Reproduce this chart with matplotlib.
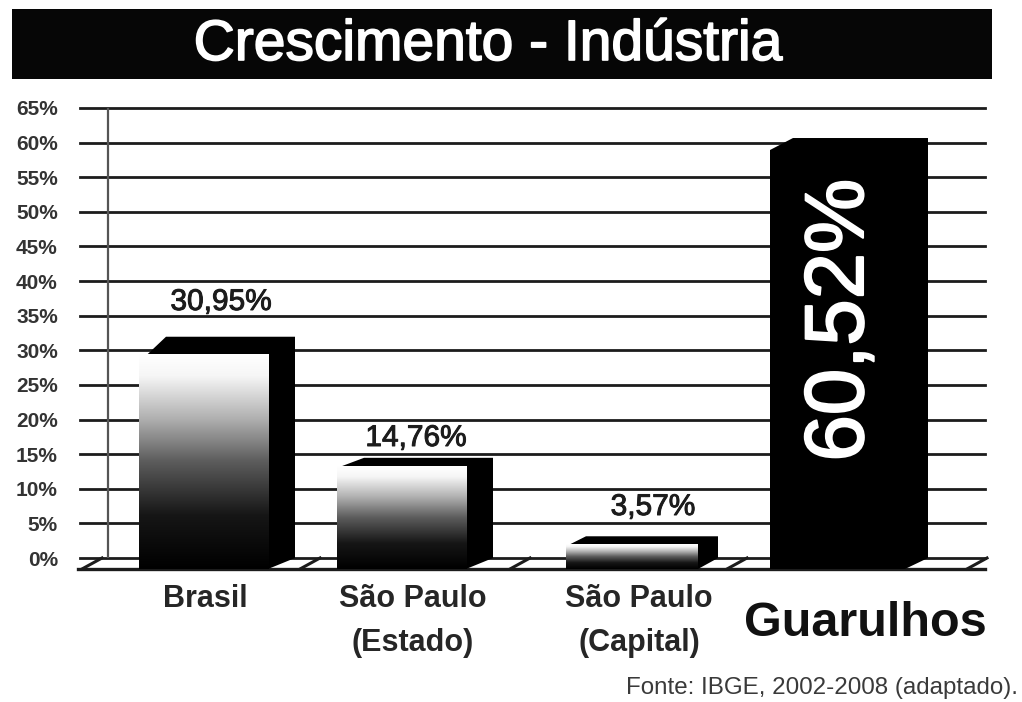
#!/usr/bin/env python3
"""Crescimento - Industria: pseudo-3D bar chart."""

import matplotlib
matplotlib.use("Agg")
import matplotlib.pyplot as plt
import matplotlib.patheffects as pe
from matplotlib.colors import LinearSegmentedColormap
from matplotlib.patches import Polygon, Rectangle
import numpy as np

W, H = 1022, 702

TITLE = "Crescimento - Indústria"
SOURCE = "Fonte: IBGE, 2002-2008 (adaptado)."
CATEGORIES = ["Brasil", "São Paulo\n(Estado)", "São Paulo\n(Capital)", "Guarulhos"]
VALUES = [30.95, 14.76, 3.57, 60.52]
VALUE_LABELS = ["30,95%", "14,76%", "3,57%", "60,52%"]
Y_TICKS = list(range(0, 70, 5))
Y_TICK_LABELS = [f"{v}%" for v in Y_TICKS]

# layout, in pixels of the reference
BAR_LEFT = [139, 337, 566, 770]
BAR_WIDTH = [129, 129, 132, 135]
SIDE_DX = [27, 27, 20, 23]
TOP_DY = [18, 9, 8, 12]
CHAMFER = [8, 3, 4, 0]
LABEL_X = [205, 413, 639, 865]
VALUE_X = [221, 416, 653]
VALUE_Y = [302, 438, 507]
FLOOR_DIVS = [82, 300, 510, 727, 967]
FLOOR_PX = 11
PX_PER_PCT = 450 / 65

INK = "#1c1c1c"
FONT = "Liberation Sans"

fig = plt.figure(figsize=(W / 100, H / 100), dpi=100, facecolor="white")
ax = fig.add_axes([80 / W, 1 - 558 / H, 905 / W, 450 / H])
ax.set_xlim(80, 985)
ax.set_ylim(0, 65)
ax.set_axisbelow(True)
for spine in ax.spines.values():
    spine.set_visible(False)

ax.yaxis.grid(True, color=INK, linewidth=2.0)
ax.set_yticks(Y_TICKS)
ax.set_yticklabels(Y_TICK_LABELS, fontsize=15, fontweight="bold", family=FONT, color="#333333")
ax.tick_params(axis="y", length=0, pad=16)
for line in ax.get_ygridlines():
    line.set_clip_on(False)
ax.axvline(108, color="#555555", linewidth=1.6, zorder=1)

# floor
floor = FLOOR_PX / PX_PER_PCT
ax.plot([78, 985], [-floor, -floor], color=INK, linewidth=2.4, clip_on=False, zorder=1)
for x in FLOOR_DIVS:
    ax.plot([x, x + 20], [-floor, 0], color=INK, linewidth=2.2, clip_on=False, zorder=1)

shade = LinearSegmentedColormap.from_list(
    "shade", [(0, "#ffffff"), (0.1, "#f6f6f6"), (0.3, "#b0b0b0"), (0.5, "#5c5c5c"),
              (0.75, "#161616"), (1, "#000000")])
grad = np.linspace(0, 1, 256).reshape(-1, 1)

bars = ax.bar(BAR_LEFT, VALUES, width=BAR_WIDTH, bottom=-floor, align="edge",
              color="black", zorder=3, clip_on=False)

for i, bar in enumerate(bars):
    x0, x1 = bar.get_x(), bar.get_x() + bar.get_width()
    top = bar.get_y() + bar.get_height()
    dx, dy = SIDE_DX[i], TOP_DY[i] / PX_PER_PCT
    body = Polygon(
        [(x0 + CHAMFER[i], top), (x0 + dx, top + dy), (x1 + dx, top + dy), (x1 + dx, 0),
         (x1, -floor), (x1, top)],
        closed=True, facecolor="black", edgecolor="none", zorder=3, clip_on=False)
    ax.add_patch(body)
    if i < 3:
        im = ax.imshow(grad, cmap=shade, aspect="auto", extent=(x0, x1, -floor, top),
                       vmin=0, vmax=1, zorder=4)
        im.set_clip_on(False)

ax.set_xlim(80, 985)
ax.set_ylim(0, 65)

# category labels
ax.set_xticks(LABEL_X)
ax.set_xticklabels(CATEGORIES, fontsize=22, fontweight="bold", family=FONT, color="#262626",
                   linespacing=1.6)
ax.tick_params(axis="x", length=0, pad=19)
big = ax.get_xticklabels()[3]
big.set_fontsize(35)
big.set_color("#111111")
ax.get_xaxis().get_major_ticks()[3].set_pad(31)

# value labels, placed from the top of the figure
for x, y, text in zip(VALUE_X, VALUE_Y, VALUE_LABELS):
    ax.text(x, (558 - y) / PX_PER_PCT, text, ha="center", va="center", fontsize=21.5,
            family=FONT, color=INK, zorder=5, clip_on=False,
            path_effects=[pe.withStroke(linewidth=0.7, foreground=INK)])
ax.text(BAR_LEFT[3] + 71, (558 - 320) / PX_PER_PCT, VALUE_LABELS[3], rotation=90,
        ha="center", va="center", fontsize=60, family=FONT,
        color="white", zorder=6, path_effects=[pe.withStroke(linewidth=1.5, foreground="white")])

# title band and source
fig.add_artist(Rectangle((12 / W, 1 - 79 / H), 980 / W, 70 / H, transform=fig.transFigure,
                         facecolor="#060606", edgecolor="none"))
fig.text(488 / W, 1 - 45 / H, TITLE, ha="center", va="center", fontsize=41,
         family=FONT, color="white",
         path_effects=[pe.withStroke(linewidth=1.2, foreground="white")])
fig.text(1018 / W, 1 - 688 / H, SOURCE, ha="right", va="center", fontsize=17.4,
         family=FONT, color="#3a3a3a")

fig.savefig("out.png", dpi=100)
